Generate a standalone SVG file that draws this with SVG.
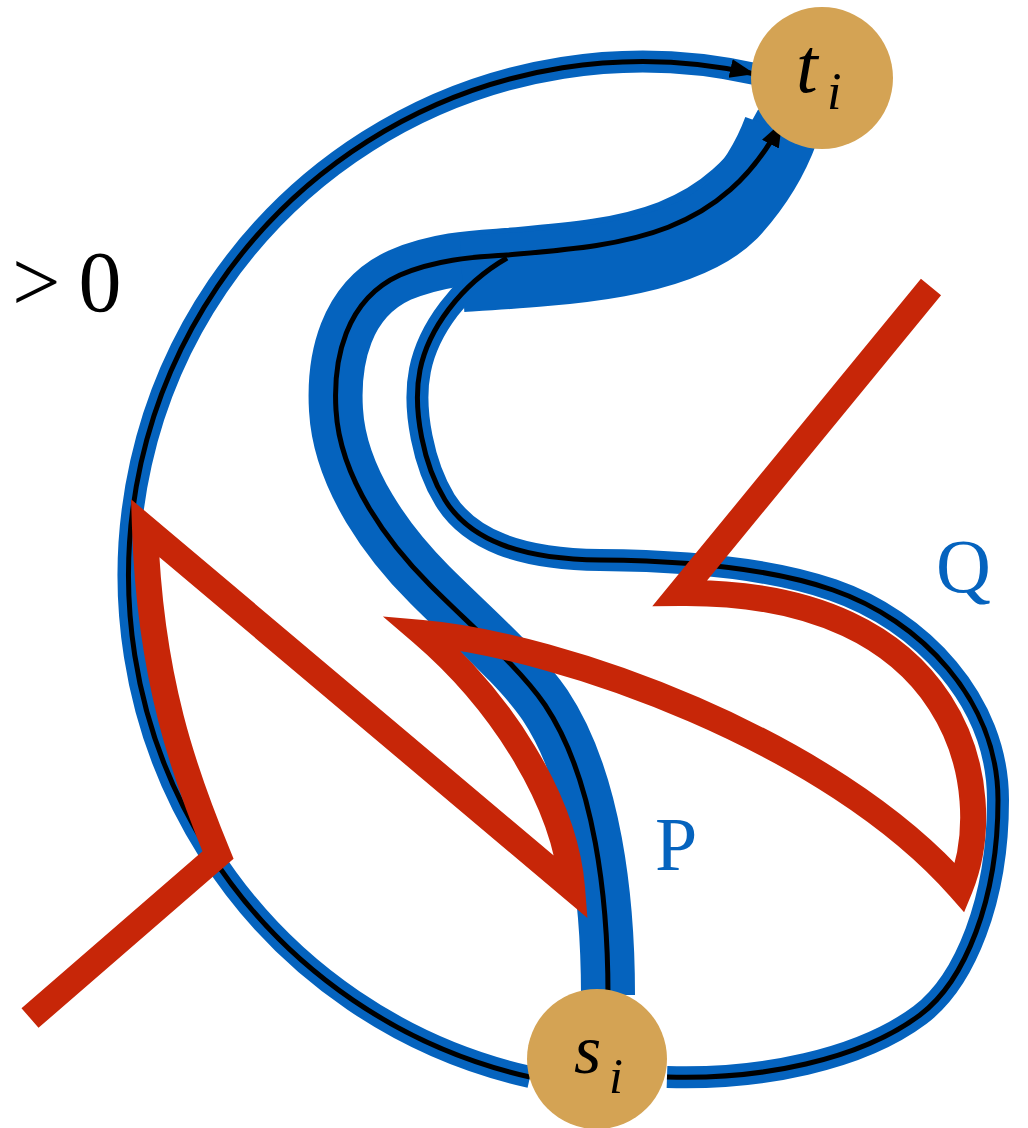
<svg xmlns="http://www.w3.org/2000/svg" width="1028" height="1128" viewBox="0 0 1028 1128">
<style>
.band{fill:none;stroke:#0563BE;stroke-linecap:butt;stroke-linejoin:round}
.line{fill:none;stroke:#000;stroke-width:5;stroke-linecap:butt}
.red{fill:none;stroke:#C72608;stroke-width:26;stroke-linejoin:miter;stroke-miterlimit:10;stroke-linecap:butt}
.node{fill:#D4A354}
.lbl{font-family:"Liberation Serif","DejaVu Serif",serif;fill:#0563BE;font-size:76px}
.math{font-family:"Liberation Serif","DejaVu Serif",serif;font-style:italic;fill:#000}
</style>
<defs>
<marker id="arr" markerUnits="userSpaceOnUse" markerWidth="26" markerHeight="20" refX="25" refY="9.5" orient="auto">
<path d="M0,0 L25,9.5 L0,19 z" fill="#000"/>
</marker>
</defs>
<g id="connectors">
<g id="bands">
<path class="band" stroke-width="22" d="M530,1077 A500,500 0 1 1 755,74"/>
<path class="band" stroke-width="22" d="M667,1077 C760,1080 860,1060 920,1015 C965,981 998,900 998,800 C998,700 920,620 833,590 C790,575 720,561 600,560 C520,559 470,540 445,500 C424,466 412,410 420,370 C428,330 460,285 507,258"/>
<path class="band" stroke-width="54" d="M608,995 C608,900 595,780 545,705 C520,668 470,625 430,585 C390,545 340,480 336,410 C333,360 345,300 400,275 C440,258 480,257 507,255 C620,245 720,240 782,122"/>
<path class="band" stroke-width="76" d="M462,274 C560,268 680,262 730,212 C755,185 770,160 781,130"/>
</g>
<g id="paths">
<path id="outer" class="line" marker-end="url(#arr)" d="M530,1077 A500,500 0 1 1 755,74"/>
<path id="Q" class="line" d="M667,1077 C760,1080 860,1060 920,1015 C965,981 998,900 998,800 C998,700 920,620 833,590 C790,575 720,561 600,560 C520,559 470,540 445,500 C424,466 412,410 420,370 C428,330 460,285 507,258"/>
<path id="P" class="line" marker-end="url(#arr)" d="M608,995 C608,900 595,780 545,705 C520,668 470,625 430,585 C390,545 340,480 336,410 C333,360 345,300 400,275 C440,258 480,257 507,255 C620,245 720,240 782,122"/>
</g>
</g>
<g id="cut">
<path class="red" d="M30,1018 L218,855 C185,775 150,680 145,528 L572,888 C565,800 500,700 422,633 C560,645 830,740 960,888 C1000,790 960,590 680,593 L931,287"/>
</g>
<g id="node-t">
<circle class="node" cx="822" cy="78" r="71"/>
<text class="math" x="796" y="92" font-size="78">t</text>
<text class="math" x="827" y="109" font-size="52">i</text>
</g>
<g id="node-s">
<circle class="node" cx="597" cy="1059" r="70"/>
<text class="math" x="574" y="1073" font-size="70">s</text>
<text class="math" x="609" y="1093" font-size="50">i</text>
</g>
<g id="labels">
<text class="lbl" x="655" y="870">P</text>
<text class="lbl" x="936" y="592">Q</text>
<text x="12" y="311" style="font-family:'Liberation Serif','DejaVu Serif',serif;font-size:86px;fill:#000">&gt;<tspan dx="18">0</tspan></text>
</g>
</svg>
